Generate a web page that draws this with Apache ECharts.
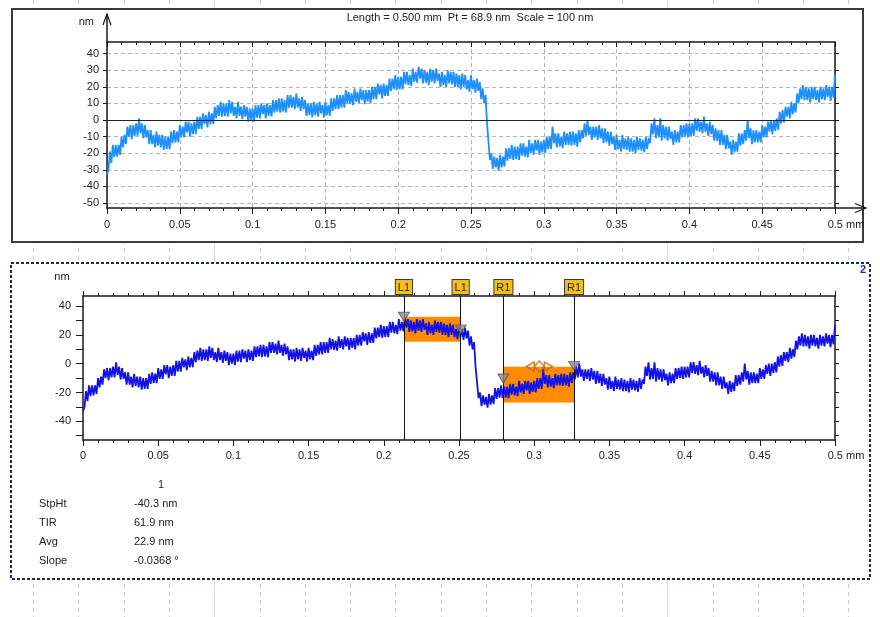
<!DOCTYPE html>
<html><head><meta charset="utf-8">
<script src="https://cdn.jsdelivr.net/npm/echarts@6/dist/echarts.min.js"></script>
<style>html,body{margin:0;padding:0;background:#fff}#c{width:880px;height:617px}</style>
</head><body><div id="c"></div>
<script>
// ---------- data ----------
const sampleStep = 0.001; // mm between samples (501 samples, 0 .. 0.5 mm)
const profile = [
 -33,-30,-19,-26,-15,-22.5,-15,-22,-15,-21,-10,-16.5,-9,-14.5,-4,-10,-3,-11.5,-3,-9.5,
 -2,-9.5,1,-8,-2,-11,-3,-10.5,-6,-14.5,-6,-14.5,-9,-16.5,-7,-15.5,-9,-16.5,-9,-18,
 -10,-17.5,-10,-17.5,-7,-14,-6,-13.5,-7,-13.5,-3,-10.5,-4,-10.5,-1,-7.5,-1,-10,-2,-8.5,
 -1,-8.5,2,-5.5,2,-5.5,4,-2.5,3,-4.5,5,-2.5,4,-2.5,8,1,9,2.5,11,2,
 10,2.5,10,2,12,4,11,2.5,8,1,11,2.5,8,0.5,9,2,8,-1,7,0,
 7,-1,9,1.5,9,1,10,3.5,9,1,10,2.5,9,2,12,4.5,12,5,13,4.5,
 13,5,12,4.5,15,7.5,15,7.5,14,6.5,16,7.5,13,5.5,14,6.5,12,2.5,10,3,
 10,1.5,11,3,10,2,11,4,9,1.5,11,3,9,2.5,13,5.5,13,6.5,15,6.5,
 15,7.5,15,7.5,18,10,17,9.5,16,9,19,11,17,10,19,12,18,9.5,18,11,
 18,10,20,12.5,20,12.5,22,15.5,21,13,22,14.5,21,14.5,25,17.5,25,18.5,27,18,
 26,18.5,26,18.5,29,21.5,29,21,27,20.5,31,23,29,22.5,32,25,31,22,30,22.5,
 29,21,31,23,30,22,31,23.5,28,20,29,21,27,20,30,22,29,21.5,29,20,
 28,20,27,18.5,28,20,27,18.5,24,17,27,18.5,24,16.5,25,17.5,23,12.5,19,10,
 15,-2,-13,-24,-20,-29.5,-22,-28.5,-23,-30.5,-21,-28.5,-22,-28,-17,-24.5,-17,-23.5,-15,-24,
 -16,-23.5,-16,-24,-14,-21.5,-14,-22,-16,-22.5,-12,-20,-14,-21,-12,-18.5,-12,-21,-13,-19.5,
 -12,-20,-10,-17.5,-10,-17.5,-4,-14,-8,-16.5,-8,-16,-10,-17,-7,-15,-8,-15,-7,-15.5,
 -7,-15,-8,-16,-6,-13.5,-6,-11,-2,-9.5,0,-9,-4,-12,-4,-10.5,-4,-12,-3,-11,
 -5,-14,-5,-13.5,-7,-15.5,-7,-14.5,-10,-18,-9,-17.5,-12,-19,-9,-17.5,-11,-18,-10,-19,
 -11,-19,-12,-20,-10,-18,-11,-18.5,-12,-19.5,-10,-17.5,-11,-14,-2,-8.5,1,-11,-3,-10.5,
 1,-12.5,-3,-11,-4,-12.5,-4,-11.5,-7,-15,-6,-13.5,-7,-13.5,-3,-10.5,-3,-10,-2,-10.5,
 -2,-9.5,-2,-9.5,1,-6.5,1,-7,-1,-8,2,-7,-2,-9.5,-1,-8.5,-3,-12.5,-5,-12.5,
 -6,-15,-6,-15,-9,-17.5,-9,-17,-13,-21,-12,-19.5,-13,-19,-8,-15.5,-8,-14.5,-6,-12.5,
 0,-11,-5,-14.5,-6,-13.5,-6,-13.5,-7,-13.5,-3,-10.5,-4,-10.5,-1,-7,0,-8.5,0,-6.5,
 1,-6,5,-2,6,-1.5,8,2,8,1,11,3.5,10,4.5,16,10,19,12.5,21,12,
 20,12,19,10.5,20,12.5,20,12,18,10.5,20,12.5,19,12,21,14,20,11.5,20,13.5,
 27
];
const yTickValues = [-50,-40,-30,-20,-10,0,10,20,30,40];
const yLabelsBottom = [-40,-20,0,20,40];
const cursorNames = ['L1','L1','R1','R1'];
const cursorX = [0.2134, 0.2511, 0.2795, 0.3265];
const cursorY = [32.6, 23.8, -10.3, -1.5];
const leftBand = [[0.2134, 32.6], [0.2511, 15.2]];
const rightBand = [[0.2795, -2.2], [0.3265, -27.0]];
const handlePos = [0.3034, -2.0];
const resultHeader = '1';
const resultNames = ['StpHt', 'TIR', 'Avg', 'Slope'];
const resultValues = ['-40.3 nm', '61.9 nm', '22.9 nm', '-0.0368 °'];
const titleText = 'Length = 0.500 mm  Pt = 68.9 nm  Scale = 100 nm';

// ---------- layout ----------
const YMIN = -53, YMAX = 47;
const G1 = {left:107, top:42, width:728, height:166};
const G2 = {left:83, top:296, width:752, height:144};
const FONT = '"Liberation Sans", Arial, sans-serif';
const AX = '#1a1a1a';

const pts = profile.map((v, i) => [+(i * sampleStep).toFixed(4), v]);

function fmtX(v) {
  if (Math.abs(v - 0.5) < 1e-9) return '{pad|}0.5 mm';
  return String(parseFloat(v.toFixed(3)));
}

function xBottom(gi, margin, split) {
  return {
    gridIndex: gi, type: 'value', min: 0, max: 0.5, interval: 0.05, position: 'bottom',
    axisLine: {show: true, onZero: false, lineStyle: {color: AX, width: 1.5}},
    axisTick: {show: true, inside: false, length: 6, lineStyle: {color: AX}},
    minorTick: {show: true, splitNumber: 5, length: 3, lineStyle: {color: AX}},
    axisLabel: {fontSize: 11, color: '#222', fontFamily: FONT, margin: margin, formatter: fmtX,
      showMinLabel: true, showMaxLabel: true, rich: {pad: {width: 22}}},
    splitLine: {show: split, lineStyle: {color: '#b4b4b4', type: [4, 3], width: 1}}
  };
}
function xTop(gi, inside) {
  return {
    gridIndex: gi, type: 'value', min: 0, max: 0.5, interval: 0.05, position: 'top',
    axisLine: {show: true, onZero: false, lineStyle: {color: AX, width: 1.5}},
    axisTick: {show: true, inside: inside, length: 5, lineStyle: {color: AX}},
    minorTick: {show: true, splitNumber: 5, length: 3, lineStyle: {color: AX}},
    axisLabel: {show: false}, splitLine: {show: false}
  };
}
function yLeft(gi, labels, tickLen, margin, split) {
  return {
    gridIndex: gi, type: 'value', min: YMIN, max: YMAX, position: 'left',
    axisLine: {show: true, onZero: false, lineStyle: {color: AX, width: 1.5}},
    axisTick: {show: true, length: tickLen, customValues: yTickValues, lineStyle: {color: AX}},
    axisLabel: {show: true, customValues: labels, fontSize: 11, color: '#222', fontFamily: FONT, margin: margin},
    splitLine: {show: split, lineStyle: {color: '#b4b4b4', type: [4, 3], width: 1}}
  };
}
function yRight(gi) {
  return {
    gridIndex: gi, type: 'value', min: YMIN, max: YMAX, position: 'right',
    axisLine: {show: true, onZero: false, lineStyle: {color: AX, width: 1.5}},
    axisTick: {show: true, length: 4, customValues: yTickValues, lineStyle: {color: AX}},
    axisLabel: {show: false}, splitLine: {show: false}
  };
}

// ---------- decorations ----------
const gfx = [];
for (let k = 0; k < 19; k++) {
  const x = Math.round(33 + 45.3 * k) + 0.5;
  const solid = (k === 4 || k === 14);
  gfx.push({type: 'line', z: -20, silent: true,
    shape: {x1: x, y1: 0, x2: x, y2: 617},
    style: {stroke: solid ? '#dcdcdc' : '#cfcfcf', lineWidth: 1, lineDash: solid ? null : [4, 4]}});
}
gfx.push({type: 'rect', z: -10, silent: true, shape: {x: 12, y: 9, width: 851, height: 233},
  style: {fill: '#fff', stroke: '#3a3a3a', lineWidth: 2}});
gfx.push({type: 'rect', z: -10, silent: true, shape: {x: 11, y: 263, width: 859, height: 316},
  style: {fill: '#fff', stroke: '#1c2b5c', lineWidth: 2, lineDash: [3, 2]}});
gfx.push({type: 'text', z: 10, style: {text: titleText, x: 470, y: 18, align: 'center', verticalAlign: 'middle',
  fontSize: 11, fontFamily: FONT, fill: '#222'}});
gfx.push({type: 'text', z: 10, style: {text: 'nm', x: 94, y: 22, align: 'right', verticalAlign: 'middle',
  fontSize: 11, fontFamily: FONT, fill: '#222'}});
gfx.push({type: 'text', z: 10, style: {text: 'nm', x: 62, y: 277, align: 'center', verticalAlign: 'middle',
  fontSize: 11, fontFamily: FONT, fill: '#222'}});
gfx.push({type: 'text', z: 10, style: {text: '2', x: 863, y: 270, align: 'center', verticalAlign: 'middle',
  fontSize: 11, fontWeight: 'bold', fontFamily: FONT, fill: '#2a2ab4'}});
// axis arrows (top chart)
gfx.push({type: 'polyline', z: 10, silent: true, shape: {points: [[107, 42], [107, 14]]},
  style: {stroke: AX, lineWidth: 1.5, fill: null}});
gfx.push({type: 'polyline', z: 10, silent: true, shape: {points: [[103, 25], [107, 14], [111, 25]]},
  style: {stroke: AX, lineWidth: 1.2, fill: null}});
gfx.push({type: 'polyline', z: 10, silent: true, shape: {points: [[835, 208], [866, 208]]},
  style: {stroke: AX, lineWidth: 1.5, fill: null}});
gfx.push({type: 'polyline', z: 10, silent: true, shape: {points: [[855, 203.5], [866, 208], [855, 212.5]]},
  style: {stroke: AX, lineWidth: 1.2, fill: null}});
// results table
gfx.push({type: 'text', z: 10, style: {text: resultHeader, x: 161, y: 485, align: 'center', verticalAlign: 'middle',
  fontSize: 11, fontFamily: FONT, fill: '#222'}});
resultNames.forEach((n, i) => {
  const y = 504 + i * 19;
  gfx.push({type: 'text', z: 10, style: {text: n, x: 39, y: y, align: 'left', verticalAlign: 'middle',
    fontSize: 11, fontFamily: FONT, fill: '#222'}});
  gfx.push({type: 'text', z: 10, style: {text: resultValues[i], x: 134, y: y, align: 'left', verticalAlign: 'middle',
    fontSize: 11, fontFamily: FONT, fill: '#222'}});
});

const handleStyle = {color: 'rgba(0,0,0,0)', borderColor: '#c86400', borderWidth: 1.5};

const option = {
  animation: false,
  backgroundColor: '#fff',
  textStyle: {fontFamily: FONT},
  grid: [
    Object.assign({containLabel: false}, G1),
    Object.assign({containLabel: false}, G2)
  ],
  xAxis: [xBottom(0, 11, true), xTop(0, true), xBottom(1, 10, false), xTop(1, false)],
  yAxis: [yLeft(0, yTickValues, 4, 8, true), yRight(0), yLeft(1, yLabelsBottom, 7, 12, false), yRight(1)],
  graphic: {elements: gfx},
  series: [
    {
      type: 'line', xAxisIndex: 0, yAxisIndex: 0, data: pts, symbol: 'none', showSymbol: false,
      sampling: null, lineStyle: {color: '#1e8fff', width: 1.8}, z: 3,
      markLine: {silent: true, symbol: ['none', 'none'], label: {show: false}, precision: 4,
        lineStyle: {color: '#222', type: 'solid', width: 1.2}, data: [{yAxis: 0}]}
    },
    {
      type: 'line', xAxisIndex: 2, yAxisIndex: 2, data: pts, symbol: 'none', showSymbol: false,
      sampling: null, lineStyle: {color: '#1212e6', width: 1.8}, z: 3,
      markArea: {silent: true, itemStyle: {color: '#ff8c00', opacity: 1},
        data: [[{coord: leftBand[0]}, {coord: leftBand[1]}], [{coord: rightBand[0]}, {coord: rightBand[1]}]]},
      markLine: {silent: true, symbol: ['none', 'none'], precision: 4,
        lineStyle: {color: '#111', type: 'solid', width: 1},
        label: {show: true, position: 'end', formatter: '{b}', distance: 2,
          backgroundColor: '#f4c018', borderColor: '#3a3a3a', borderWidth: 1, padding: [2, 2, 1, 2],
          fontSize: 11, color: '#222', fontFamily: FONT},
        data: cursorX.map((x, i) => ({xAxis: x, name: cursorNames[i]}))}
    },
    {
      type: 'scatter', xAxisIndex: 2, yAxisIndex: 2, z: 6, silent: true,
      data: cursorX.map((x, i) => [x, cursorY[i]]),
      symbol: 'triangle', symbolRotate: 180, symbolSize: [11, 9],
      itemStyle: {color: '#8c8c8c', borderColor: '#555', borderWidth: 1}
    },
    {type: 'scatter', xAxisIndex: 2, yAxisIndex: 2, z: 6, silent: true, data: [handlePos],
      symbol: 'triangle', symbolRotate: 90, symbolSize: [9, 8], symbolOffset: [-9, 0], itemStyle: handleStyle},
    {type: 'scatter', xAxisIndex: 2, yAxisIndex: 2, z: 6, silent: true, data: [handlePos],
      symbol: 'diamond', symbolSize: [10, 11], itemStyle: handleStyle},
    {type: 'scatter', xAxisIndex: 2, yAxisIndex: 2, z: 6, silent: true, data: [handlePos],
      symbol: 'triangle', symbolRotate: -90, symbolSize: [9, 8], symbolOffset: [9, 0], itemStyle: handleStyle}
  ]
};
const chart = echarts.init(document.getElementById('c'), null, {renderer: 'canvas'});
chart.setOption(option);
</script>
</body></html>
